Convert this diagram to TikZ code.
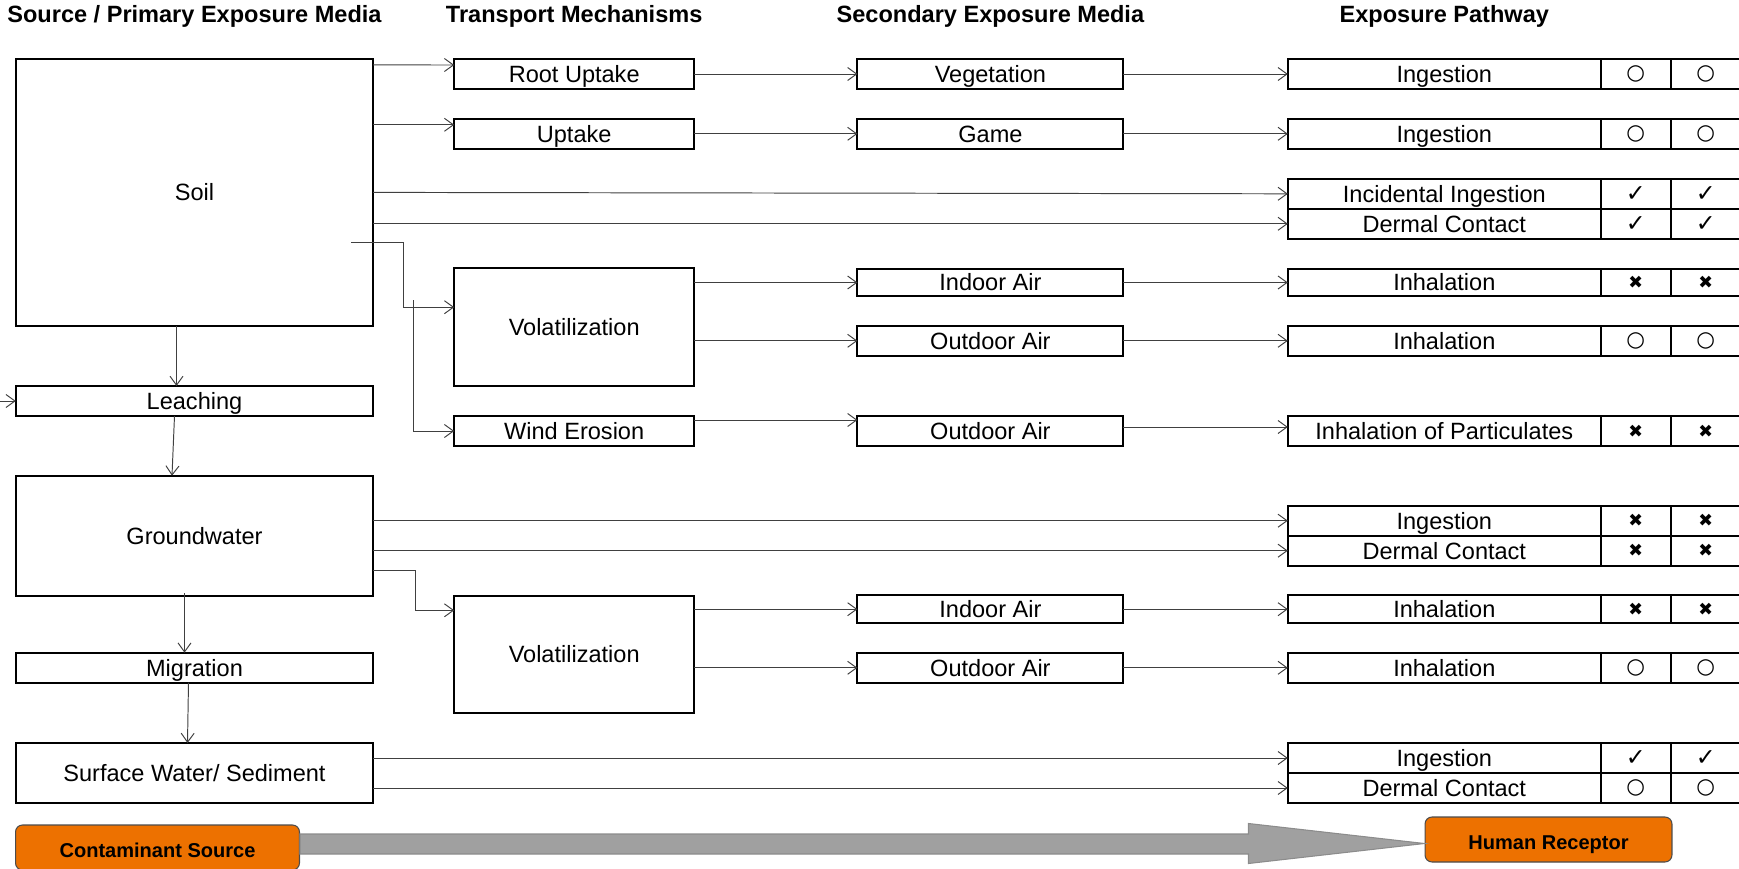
\documentclass[tikz,border=0pt]{standalone}
\usepackage{fontspec}
\setmainfont{Liberation Sans}
\newfontfamily\symfont{DejaVu Sans}
\usetikzlibrary{arrows.meta,positioning,calc}
\definecolor{boxorange}{RGB}{237,113,0}
\definecolor{arrowgray}{RGB}{160,160,160}

\begin{document}
\begin{tikzpicture}[x=0.02cm,y=-0.02cm,>={Straight Barb[length=0.18cm,width=0.26cm]},
    frame/.style={draw,line width=1.1pt,inner sep=0pt,outer sep=0pt},
    box/.style={frame,font=\fontsize{13.4}{16}\selectfont,text height=9.6pt,text depth=0pt,minimum height=0.6cm},
    srcbox/.style={box,minimum width=7.15cm},
    mech/.style={box,minimum width=4.8cm},
    secbox/.style={box,minimum width=5.32cm},
    route/.style={box,minimum width=6.26cm},
    cell/.style={frame,minimum width=1.4cm,minimum height=#1,font=\symfont\fontsize{12.2}{14}\selectfont},
    cell/.default=0.6cm,
    okmark/.style={font=\symfont\fontsize{13.5}{16}\selectfont},
    nomark/.style={font=\symfont\fontsize{10}{12}\selectfont},
    heading/.style={font=\bfseries\fontsize{13.4}{16}\selectfont,text height=9.6pt,text depth=0pt,inner sep=0pt},
    endbox/.style={draw=black!70,fill=boxorange,rounded corners=0.14cm,line width=0.6pt,minimum height=0.9cm,
        inner sep=0pt,text height=11.2pt,text depth=0pt,font=\bfseries\fontsize{11.4}{14}\selectfont},
    link/.style={->,line width=0.55pt,draw=black!75}]
    \useasboundingbox (0,0) rectangle (1739,869);

    \node[heading] (t1) at (194.5,14) {Source / Primary Exposure Media};
    \node[heading] (t2) at (574.2,14) {Transport Mechanisms};
    \node[heading] (t3) at (990.4,14) {Secondary Exposure Media};
    \node[heading] (t4) at (1444.3,14) {Exposure Pathway};

    \node[srcbox,minimum height=5.34cm] (soil) at (194.5,192.4) {Soil};
    \node[srcbox] (leach) at (194.5,401) {Leaching};
    \node[srcbox,minimum height=2.4cm] (gw) at (194.5,535.7) {Groundwater};
    \node[srcbox] (migr) at (194.5,667.7) {Migration};
    \node[srcbox,minimum height=1.2cm] (sw) at (194.5,773) {Surface Water/ Sediment};

    \node[mech] (rootup) at (574.2,74) {Root Uptake};
    \node[mech] (uptake) at (574.2,133.8) {Uptake};
    \node[mech,minimum height=2.35cm] (vol1) at (574.2,327.2) {Volatilization};
    \node[mech] (wind) at (574.2,431) {Wind Erosion};
    \node[mech,minimum height=2.35cm] (vol2) at (574.2,654.3) {Volatilization};

    \node[secbox] (veg) at (990.4,74) {Vegetation};
    \node[secbox] (game) at (990.4,133.8) {Game};
    \node[secbox,minimum height=0.55cm] (indoor1) at (990.4,282.5) {Indoor Air};
    \node[secbox] (outdoor1) at (990.4,340.8) {Outdoor Air};
    \node[secbox] (outdoor2) at (990.4,431) {Outdoor Air};
    \node[secbox,minimum height=0.55cm] (indoor2) at (990.4,609.2) {Indoor Air};
    \node[secbox] (outdoor3) at (990.4,667.8) {Outdoor Air};

    \node[route] (ing1) at (1444.3,74) {Ingestion};
    \node[cell,right=0pt of ing1] (ing1a) {○};
    \node[cell,right=0pt of ing1a] (ing1b) {○};
    \node[route] (ing2) at (1444.3,133.8) {Ingestion};
    \node[cell,right=0pt of ing2] (ing2a) {○};
    \node[cell,right=0pt of ing2a] (ing2b) {○};
    \node[route] (incid) at (1444.3,193.8) {Incidental Ingestion};
    \node[cell,okmark,right=0pt of incid] (incida) {✓};
    \node[cell,okmark,right=0pt of incida] (incidb) {✓};
    \node[route,below=0pt of incid] (derm1) {Dermal Contact};
    \node[cell,okmark,right=0pt of derm1] (derm1a) {✓};
    \node[cell,okmark,right=0pt of derm1a] (derm1b) {✓};
    \node[route,minimum height=0.55cm] (inh1) at (1444.3,282.5) {Inhalation};
    \node[cell=0.55cm,nomark,right=0pt of inh1] (inh1a) {✖};
    \node[cell=0.55cm,nomark,right=0pt of inh1a] (inh1b) {✖};
    \node[route] (inh2) at (1444.3,340.8) {Inhalation};
    \node[cell,right=0pt of inh2] (inh2a) {○};
    \node[cell,right=0pt of inh2a] (inh2b) {○};
    \node[route] (partic) at (1444.3,431) {Inhalation of Particulates};
    \node[cell,nomark,right=0pt of partic] (partica) {✖};
    \node[cell,nomark,right=0pt of partica] (particb) {✖};
    \node[route] (ing3) at (1444.3,520.7) {Ingestion};
    \node[cell,nomark,right=0pt of ing3] (ing3a) {✖};
    \node[cell,nomark,right=0pt of ing3a] (ing3b) {✖};
    \node[route,below=0pt of ing3] (derm2) {Dermal Contact};
    \node[cell,nomark,right=0pt of derm2] (derm2a) {✖};
    \node[cell,nomark,right=0pt of derm2a] (derm2b) {✖};
    \node[route,minimum height=0.55cm] (inh3) at (1444.3,609.2) {Inhalation};
    \node[cell=0.55cm,nomark,right=0pt of inh3] (inh3a) {✖};
    \node[cell=0.55cm,nomark,right=0pt of inh3a] (inh3b) {✖};
    \node[route] (inh4) at (1444.3,667.8) {Inhalation};
    \node[cell,right=0pt of inh4] (inh4a) {○};
    \node[cell,right=0pt of inh4a] (inh4b) {○};
    \node[route] (ing4) at (1444.3,758) {Ingestion};
    \node[cell,okmark,right=0pt of ing4] (ing4a) {✓};
    \node[cell,okmark,right=0pt of ing4a] (ing4b) {✓};
    \node[route,below=0pt of ing4] (derm3) {Dermal Contact};
    \node[cell,right=0pt of derm3] (derm3a) {○};
    \node[cell,right=0pt of derm3a] (derm3b) {○};

    \node[endbox,minimum width=5.68cm] (source) at (157.5,847.5) {Contaminant Source};
    \node[endbox,minimum width=4.94cm] (receptor) at (1548.5,839.5) {Human Receptor};

    \draw[fill=arrowgray,draw=black!45,line width=0.6pt]
        ($(source.east)+(0,-13.5)$) -- ($(receptor.west)+(-176,-5.5)$) -- ($(receptor.west)+(-176,-16)$)
        -- ($(receptor.west)+(0,4)$) -- ($(receptor.west)+(-176,24)$) -- ($(receptor.west)+(-176,14.5)$)
        -- ($(source.east)+(0,6.5)$) -- cycle;

    \draw[link] ($(soil.north east)+(0,6)$) -- ($(rootup.north west)+(0,6)$);
    \draw[link] ($(soil.east |- uptake.north)+(0,6)$) -- ($(uptake.north west)+(0,6)$);
    \draw[link] (soil.east) -- (incid.west);
    \draw[link] (soil.east |- derm1.west) -- (derm1.west);
    \coordinate (soilvol) at (351,242);
    \draw[link] (soilvol) -- ++(52,0) |- ($(vol1.west)+(0,-20)$);
    \coordinate (windsplit) at (413,300);
    \draw[link] (windsplit) |- (wind.west);
    \draw[link] ([xshift=-0.36cm]soil.south) -- ([xshift=-0.36cm]leach.north);
    \coordinate (leachin) at (0,401);
    \draw[link] (leachin) -- (leach.west);
    \draw[link] ([xshift=-0.4cm]leach.south) -- ([xshift=-0.45cm]gw.north);
    \draw[link] (gw.east |- ing3.west) -- (ing3.west);
    \draw[link] (gw.east |- derm2.west) -- (derm2.west);
    \draw[link] ($(gw.east)+(0,35)$) -- ++(42,0) |- ($(vol2.west)+(0,-44)$);
    \draw[link] ([xshift=-0.2cm,yshift=0.05cm]gw.south) -- ([xshift=-0.2cm]migr.north);
    \draw[link] ([xshift=-0.12cm]migr.south) -- ([xshift=-0.14cm]sw.north);
    \draw[link] (sw.east |- ing4.west) -- (ing4.west);
    \draw[link] (sw.east |- derm3.west) -- (derm3.west);

    \draw[link] (rootup.east) -- (veg.west);
    \draw[link] (uptake.east) -- (game.west);
    \draw[link] (vol1.east |- indoor1.west) -- (indoor1.west);
    \draw[link] (vol1.east |- outdoor1.west) -- (outdoor1.west);
    \draw[link] ($(wind.east)+(0,-11)$) -- ($(outdoor2.west)+(0,-11)$);
    \draw[link] (vol2.east |- indoor2.west) -- (indoor2.west);
    \draw[link] (vol2.east |- outdoor3.west) -- (outdoor3.west);

    \draw[link] (veg.east) -- (ing1.west);
    \draw[link] (game.east) -- (ing2.west);
    \draw[link] (indoor1.east) -- (inh1.west);
    \draw[link] (outdoor1.east) -- (inh2.west);
    \draw[link] ($(outdoor2.east)+(0,-4)$) -- ($(partic.west)+(0,-4)$);
    \draw[link] (indoor2.east) -- (inh3.west);
    \draw[link] (outdoor3.east) -- (inh4.west);
\end{tikzpicture}
\end{document}
